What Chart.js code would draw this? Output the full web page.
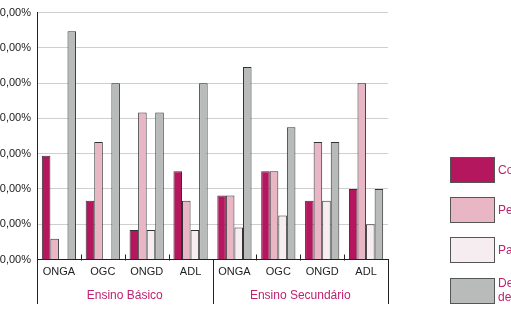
<!DOCTYPE html>
<html>
<head>
<meta charset="utf-8">
<script src="https://cdn.jsdelivr.net/npm/chart.js@4/dist/chart.umd.min.js"></script>
<style>
html,body{margin:0;padding:0;background:#fff;overflow:hidden;}
#wrap{position:relative;width:511px;height:309px;}
</style>
</head>
<body>
<div id="wrap"><canvas id="c" width="511" height="309"></canvas></div>
<script>
// ---- data ----
const categories = ['ONGA','OGC','ONGD','ADL','ONGA','OGC','ONGD','ADL'];
const groups = ['Ensino Básico','Ensino Secundário'];
const seriesNames = ['Conhece', 'Pensa participar', 'Participa', ['Desconhece a existência', 'de projectos']];
const serieA = [29.41, 16.67, 8.33, 25.00, 18.18, 25.00, 16.67, 20.00];
const serieB = [5.88, 33.33, 41.67, 16.67, 18.18, 25.00, 33.33, 50.00];
const serieC = [0, 0, 8.33, 8.33, 9.09, 12.50, 16.67, 10.00];
const serieD = [64.71, 50.00, 41.67, 50.00, 54.55, 37.50, 33.33, 20.00];
const yMin = 0, yMax = 70, yStep = 10;

const colors = ['#B5175F', '#E9B6C6', '#F6EDF0', '#B9BBBB'];
const edge = '#333333';
const axisColor = '#222';
const magentaText = '#C0226E';
const fontFam = '"Liberation Sans", Arial, sans-serif';

const series = [serieA, serieB, serieC, serieD];

const decorPlugin = {
  id: 'decor',
  afterDraw(chart) {
    const ctx = chart.ctx;
    const ca = chart.chartArea;
    const n = categories.length;
    const step = (ca.right - ca.left) / n;
    const bottomY = 304;
    ctx.save();
    ctx.strokeStyle = axisColor;
    ctx.lineWidth = 1;
    const perGroup = n / groups.length;
    for (let g = 0; g <= groups.length; g++) {
      const x = Math.round(ca.left + g * perGroup * step) + 0.5;
      ctx.beginPath();
      ctx.moveTo(x, ca.bottom);
      ctx.lineTo(x, bottomY);
      ctx.stroke();
    }
    for (let i = 1; i < n; i++) {
      if (i % perGroup === 0) continue;
      const x = Math.round(ca.left + i * step) + 0.5;
      ctx.beginPath();
      ctx.moveTo(x, ca.bottom - 5);
      ctx.lineTo(x, ca.bottom + 1);
      ctx.stroke();
    }
    // legend
    const lx = ca.right + 62, bw = 44, bh = 25;
    const tops = [157, 197, 237, 278];
    chart.data.datasets.forEach((ds, i) => {
      const y = tops[i];
      ctx.fillStyle = ds.backgroundColor;
      ctx.fillRect(lx + 0.5, y + 0.5, bw, bh);
      ctx.strokeStyle = '#555';
      ctx.strokeRect(lx + 0.5, y + 0.5, bw, bh);
      ctx.fillStyle = magentaText;
      ctx.font = '12px ' + fontFam;
      ctx.textBaseline = 'middle';
      ctx.textAlign = 'left';
      const lab = ds.label;
      if (Array.isArray(lab)) {
        ctx.fillText(lab[0], lx + bw + 4, y + 6);
        ctx.fillText(lab[1], lx + bw + 4, y + 20);
      } else {
        ctx.fillText(lab, lx + bw + 4, y + bh / 2 + 1);
      }
    });
    ctx.restore();
  }
};

new Chart(document.getElementById('c'), {
  type: 'bar',
  data: {
    labels: categories,
    datasets: series.map((s, i) => ({
      label: seriesNames[i],
      data: s,
      backgroundColor: colors[i],
      borderColor: edge,
      borderWidth: 1,
      borderSkipped: 'start',
      barPercentage: 1,
      categoryPercentage: 0.78
    }))
  },
  options: {
    responsive: false,
    animation: false,
    devicePixelRatio: 1,
    layout: { padding: { top: 9, right: 123, bottom: 0, left: 0 } },
    plugins: { legend: { display: false }, tooltip: { enabled: false } },
    scales: {
      x: {
        type: 'category',
        labels: categories,
        afterFit(scale) { scale.height = 20; },
        grid: { display: false, drawTicks: false },
        border: { display: true, color: axisColor, width: 1 },
        ticks: { color: '#222', font: { family: fontFam, size: 11 }, padding: 6, autoSkip: false, maxRotation: 0 }
      },
      x2: {
        type: 'category',
        position: 'bottom',
        labels: groups,
        offset: true,
        afterFit(scale) { scale.height = 29.5; },
        grid: { display: false, drawTicks: false },
        border: { display: false },
        ticks: { color: magentaText, font: { family: fontFam, size: 12 }, padding: 9, maxRotation: 0 }
      },
      y: {
        min: yMin, max: yMax,
        afterFit(scale) { scale.width = 37; },
        grid: { color: '#cfcfcf', drawTicks: false },
        border: { display: true, color: axisColor, width: 1 },
        ticks: {
          stepSize: yStep,
          padding: 6,
          color: '#222',
          font: { family: fontFam, size: 11 },
          callback: v => v.toFixed(2).replace('.', ',') + '%'
        }
      }
    }
  },
  plugins: [decorPlugin]
});
</script>
</body>
</html>
